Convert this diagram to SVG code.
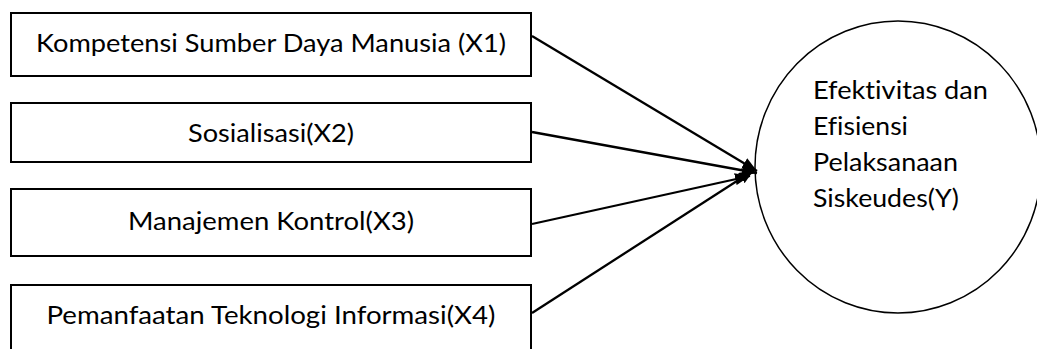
<svg xmlns="http://www.w3.org/2000/svg" width="1037" height="349" viewBox="0 0 1037 349">
<style>
.box{fill:#fff;stroke:#000;stroke-width:2}
.lbl{font-family:Lato,"Liberation Sans",sans-serif;font-size:25px;fill:#000;font-variant-ligatures:none}
.c{text-anchor:middle}
.con{stroke:#000;stroke-width:2.3;fill:none;marker-end:url(#ah)}
</style>
<defs>
<marker id="ah" markerUnits="userSpaceOnUse" markerWidth="16" markerHeight="12" refX="15" refY="6" orient="auto">
<path d="M0,0 L15,6 L0,12 Z" fill="#000"/>
</marker>
</defs>
<rect width="1037" height="349" fill="#fff"/>
<g id="x1"><rect class="box" x="11" y="13" width="520" height="63"/><text class="lbl c" x="271" y="52" textLength="470" lengthAdjust="spacingAndGlyphs">Kompetensi Sumber Daya Manusia (X1)</text></g>
<g id="x2"><rect class="box" x="11" y="103" width="520" height="59"/><text class="lbl c" x="271" y="142" textLength="166" lengthAdjust="spacingAndGlyphs">Sosialisasi(X2)</text></g>
<g id="x3"><rect class="box" x="11" y="189" width="520" height="67"/><text class="lbl c" x="271" y="230" textLength="286" lengthAdjust="spacingAndGlyphs">Manajemen Kontrol(X3)</text></g>
<g id="x4"><rect class="box" x="11" y="285" width="520" height="90"/><text class="lbl c" x="271" y="324" textLength="449" lengthAdjust="spacingAndGlyphs">Pemanfaatan Teknologi Informasi(X4)</text></g>
<g id="y"><ellipse cx="898" cy="167" rx="143" ry="146" fill="#fff" stroke="#000" stroke-width="1.5"/>
<text class="lbl" x="813" y="99" textLength="175" lengthAdjust="spacingAndGlyphs">Efektivitas dan</text>
<text class="lbl" x="813" y="135" textLength="95" lengthAdjust="spacingAndGlyphs">Efisiensi</text>
<text class="lbl" x="813" y="171" textLength="145" lengthAdjust="spacingAndGlyphs">Pelaksanaan</text>
<text class="lbl" x="813" y="207" textLength="146" lengthAdjust="spacingAndGlyphs">Siskeudes(Y)</text>
</g>
<g id="connectors">
<line class="con" x1="532" y1="36" x2="757" y2="171"/>
<line class="con" x1="532" y1="132" x2="757" y2="173"/>
<line class="con" x1="532" y1="224" x2="750" y2="176"/>
<line class="con" x1="532" y1="313" x2="754" y2="170"/>
</g>
</svg>
